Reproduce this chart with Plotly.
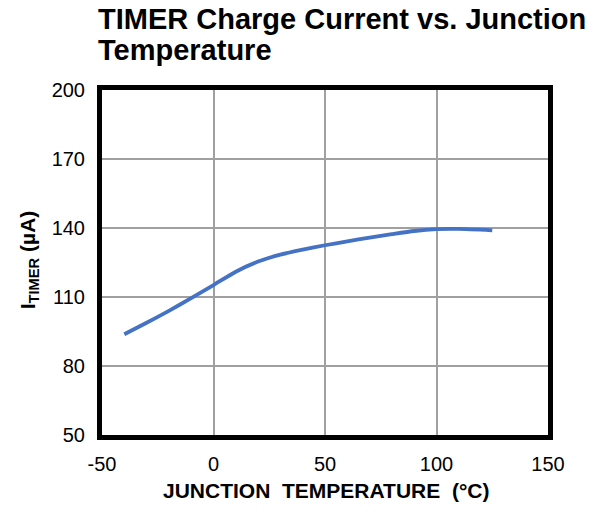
import plotly.graph_objects as go

temperature_c = [-40, -30, -20, -10, 0, 10, 20, 30, 40, 50, 60, 70, 80, 90, 100, 110, 125]
i_timer_ua = [93.8, 98.8, 104.0, 109.5, 115.2, 121.0, 125.4, 128.4, 130.6, 132.5,
              134.2, 135.8, 137.3, 138.7, 139.5, 139.6, 139.0]

x_ticks = [-50, 0, 50, 100, 150]
y_ticks = [50, 80, 110, 140, 170, 200]

title_lines = ["TIMER Charge Current vs. Junction", "Temperature"]
x_title = "JUNCTION\u00a0 TEMPERATURE\u00a0 (°C)"
y_title = "I<sub>TIMER</sub> (µA)"

# page has an 8px body margin; work in page pixels and convert
OFF = 8
W, H = 589, 511
plot_left, plot_right, plot_top, plot_bottom = 101.6, 548.0, 90.1, 435.2
L = plot_left - OFF
R = W - (plot_right - OFF)
T = plot_top - OFF
B = H - (plot_bottom - OFF)
PW, PH = plot_right - plot_left, plot_bottom - plot_top

def px_x(p):
    return (p - plot_left) / PW

def px_y(p):
    return (plot_bottom - p) / PH

font_family = "Liberation Sans, Arial, sans-serif"

fig = go.Figure()
fig.add_trace(go.Scatter(
    x=temperature_c, y=i_timer_ua, mode="lines",
    line=dict(color="#4472C4", width=3.8, shape="spline", smoothing=0.6),
    showlegend=False, hoverinfo="skip",
))

fig.update_layout(
    template="none",
    width=W, height=H,
    margin=dict(l=L, r=R, t=T, b=B, autoexpand=False),
    paper_bgcolor="white", plot_bgcolor="white",
    font=dict(family=font_family, color="black", size=20),
    xaxis=dict(
        range=[-50, 150], tickvals=x_ticks, ticktext=[str(v) for v in x_ticks],
        showgrid=True, gridcolor="#a0a0a0", gridwidth=2,
        showline=True, linecolor="black", linewidth=5, mirror=True,
        ticks="outside", ticklen=7, tickcolor="rgba(0,0,0,0)",
        tickfont=dict(size=20),
        zeroline=False, automargin=False,
    ),
    yaxis=dict(
        range=[50, 200], tickvals=y_ticks, ticktext=[str(v) for v in y_ticks],
        showgrid=True, gridcolor="#a0a0a0", gridwidth=2,
        showline=True, linecolor="black", linewidth=5, mirror=True,
        ticks="outside", ticklen=8, tickcolor="rgba(0,0,0,0)",
        tickfont=dict(size=20),
        zeroline=False, automargin=False,
    ),
)

annotations = [
    dict(text=f"<b>{title_lines[0]}</b>", xref="paper", yref="paper",
         x=px_x(96), y=px_y(19), xanchor="left", yanchor="middle",
         showarrow=False, font=dict(size=29)),
    dict(text=f"<b>{title_lines[1]}</b>", xref="paper", yref="paper",
         x=px_x(96), y=px_y(50.5), xanchor="left", yanchor="middle",
         showarrow=False, font=dict(size=29)),
    dict(text=f"<b>{x_title}</b>", xref="paper", yref="paper",
         x=px_x(326), y=px_y(491), xanchor="center", yanchor="middle",
         showarrow=False, font=dict(size=21)),
    dict(text=f"<b>{y_title}</b>", xref="paper", yref="paper",
         x=px_x(28), y=px_y(260), xanchor="center", yanchor="middle",
         textangle=-90, showarrow=False, font=dict(size=21)),
]
fig.update_layout(annotations=annotations)

fig.write_html("out.html")
